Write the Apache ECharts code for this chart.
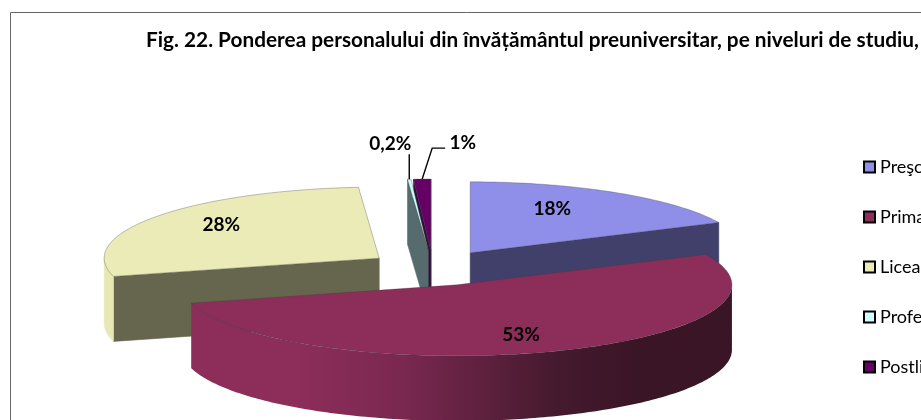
<!DOCTYPE html>
<html>
<head>
<meta charset="utf-8">
<style>html,body{margin:0;padding:0;background:#fff;overflow:hidden}#chart{width:921px;height:420px}</style>
<script src="https://cdn.jsdelivr.net/npm/echarts@6/dist/echarts.min.js"></script>
</head>
<body>
<div id="chart"></div>
<script>
var categories = ["Preşcolar", "Primar", "Liceal", "Profesional", "Postliceal"];
var values = [18, 53, 28, 0.2, 1];
var chartTitle = "Fig. 22. Ponderea personalului din învățământul preuniversitar, pe niveluri de studiu,";

// culorile feliilor
var topColors = ["#8f8fea", "#8c2d5a", "#ebebb8", "#ccffff", "#660066"];
var cutColors = ["#40406a", "#5a1d3a", "#66664e", "#566b6e", "#33103a"];
var wallColors = ["#40406a", "#8c2d5a", "#e8e8b5", "#566b6e", "#33103a"];

// geometria pseudo-3D
var cx = 433, cy = 268, rx = 275, ry = 71, depth = 65;
var explode = [0.253, 0.253, 0.24, 0.253, 0.253];
var drawOrder = [1, 5, 2, 4, 3];
var labelOffsets = [[82, -44], [64, 50], [-158, -33], [-38, -106], [32, -107]];
var leaders = [null, null, null, [[0, -25]], [[10, -31], [23, -31]]];

var total = values.reduce(function (a, b) { return a + b; }, 0);

function rad(deg) { return deg * Math.PI / 180; }

function ellipsePoint(c, deg, dy) {
    return [c[0] + rx * Math.sin(rad(deg)), c[1] - ry * Math.cos(rad(deg)) + (dy || 0)];
}

function arcPoints(c, from, to, dy) {
    var pts = [];
    var n = Math.max(2, Math.ceil(Math.abs(to - from)));
    for (var k = 0; k <= n; k++) {
        pts.push(ellipsePoint(c, from + (to - from) * k / n, dy));
    }
    return pts;
}

function poly(points, fill, stroke) {
    return {
        type: "polygon",
        shape: { points: points },
        style: { fill: fill, stroke: stroke || fill, lineWidth: 0.6 },
        silent: true
    };
}

function renderSlice(params, api) {
    var i = api.value(1);
    var start = 0;
    for (var j = 0; j < i; j++) {
        start += values[j] / total * 360;
    }
    var end = start + api.value(0) / total * 360;
    var mid = (start + end) / 2;
    var c = [
        cx + explode[i] * rx * Math.sin(rad(mid)),
        cy - explode[i] * ry * Math.cos(rad(mid))
    ];
    var children = [];

    // fetele taieturii radiale
    function cut(deg) {
        var p = ellipsePoint(c, deg);
        var q = ellipsePoint(c, deg, depth);
        children.push(poly([c, p, q, [c[0], c[1] + depth]], cutColors[i]));
    }
    if (Math.sin(rad(end)) >= -0.001) { cut(end); }
    if (Math.sin(rad(start)) < 0) { cut(start); }

    // peretele exterior (doar partea din fata)
    var wallFrom = Math.max(start, 90), wallTo = Math.min(end, 270);
    if (wallTo > wallFrom) {
        var top = arcPoints(c, wallFrom, wallTo, 0);
        var bottom = arcPoints(c, wallTo, wallFrom, depth);
        var fill = wallColors[i];
        if (i === 1) {
            fill = {
                type: "linear", x: 300, y: 0, x2: 640, y2: 0, global: true,
                colorStops: [
                    { offset: 0, color: "#8c2d5a" },
                    { offset: 0.3, color: "#7a2850" },
                    { offset: 0.75, color: "#451a2e" },
                    { offset: 1, color: "#3a1526" }
                ]
            };
        }
        children.push(poly(top.concat(bottom), fill, i === 1 ? "none" : null));
    }

    // fata de sus
    children.push(poly([c].concat(arcPoints(c, start, end, 0)), topColors[i], "rgba(60,60,60,0.55)"));

    // linii de legatura
    if (leaders[i]) {
        var a = ellipsePoint(c, mid);
        var line = [a];
        leaders[i].forEach(function (d) {
            line.push([a[0] + d[0], a[1] + d[1]]);
        });
        children.push({
            type: "polyline",
            shape: { points: line },
            style: { fill: "none", stroke: "#000", lineWidth: 1.4 },
            silent: true
        });
    }

    // eticheta
    children.push({
        type: "text",
        x: c[0] + labelOffsets[i][0],
        y: c[1] + labelOffsets[i][1],
        style: {
            text: String(api.value(0)).replace(".", ",") + "%",
            fill: "#000",
            font: "bold 19px Lato",
            align: "center",
            verticalAlign: "middle"
        },
        silent: true
    });

    return { type: "group", children: children };
}

var series = categories.map(function (name, i) {
    return {
        type: "custom",
        name: name,
        coordinateSystem: "none",
        z: drawOrder[i],
        animation: false,
        itemStyle: { color: topColors[i] },
        data: [[values[i], i]],
        renderItem: renderSlice
    };
});

var chart = echarts.init(document.getElementById("chart"), null, { renderer: "canvas" });
chart.setOption({
    animation: false,
    backgroundColor: "#fff",
    title: {
        text: chartTitle,
        left: 146,
        top: 30,
        padding: 0,
        textStyle: { color: "#000", fontFamily: "Lato", fontWeight: "bold", fontSize: 20.8 }
    },
    legend: {
        orient: "vertical",
        left: 863,
        top: 158,
        padding: 0,
        itemWidth: 11,
        itemHeight: 11,
        itemGap: 32,
        itemStyle: { borderColor: "#000", borderWidth: 2 },
        icon: "rect",
        textStyle: { color: "#000", fontFamily: "Lato", fontSize: 18, lineHeight: 18 },
        data: categories
    },
    graphic: [{
        type: "rect",
        shape: { x: 10.5, y: 12.5, width: 1000, height: 600 },
        style: { fill: "none", stroke: "#666", lineWidth: 1 },
        silent: true
    }],
    series: series
});

window.addEventListener("resize", function () {
    chart.resize();
});
</script>
</body>
</html>
